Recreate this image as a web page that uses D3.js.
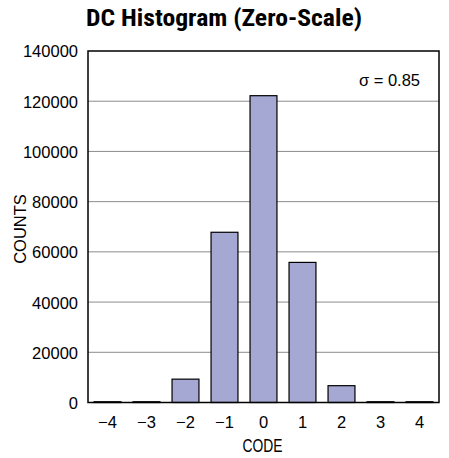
<!DOCTYPE html>
<html><head><meta charset="utf-8">
<script src="https://cdn.jsdelivr.net/npm/d3@7"></script>
<style>
body{margin:0;background:#fff;}
text{font-family:"Liberation Sans",Arial,sans-serif;}
</style></head>
<body>
<svg id="c" width="449" height="458"></svg>
<script>
const codes = ["−4","−3","−2","−1","0","1","2","3","4"];
const counts = [300, 300, 9300, 67800, 122200, 55800, 6700, 300, 300];
const yTicks = [0,20000,40000,60000,80000,100000,120000,140000];
const title = "DC Histogram (Zero-Scale)";
const sigmaLabel = "σ = 0.85";

const svg = d3.select("#c");
const L=88, R=439, T=51, B=402.5;
const x = d3.scaleBand().domain(codes).range([L,R]).paddingInner(0.31).paddingOuter(0.155);
const y = d3.scaleLinear().domain([0,140000]).range([B,T]);

// gridlines
svg.append("g").selectAll("line").data(yTicks.filter(d=>d>0 && d<140000)).join("line")
  .attr("x1",L).attr("x2",R).attr("y1",d=>y(d)).attr("y2",d=>y(d))
  .attr("stroke","#8c8c8c").attr("stroke-width",1);

// bars
svg.append("g").selectAll("rect").data(codes.map((c,i)=>({c,v:counts[i]}))).join("rect")
  .attr("x",d=>x(d.c)).attr("width",x.bandwidth())
  .attr("y",d=>y(d.v)).attr("height",d=>B-y(d.v))
  .attr("fill","#a6a8d4").attr("stroke","#000").attr("stroke-width",1.2);

// frame
svg.append("rect").attr("x",L).attr("y",T).attr("width",R-L).attr("height",B-T)
  .attr("fill","none").attr("stroke","#000").attr("stroke-width",1.5);

const FS = 16.5;
// y axis labels
const ya = svg.append("g").attr("transform",`translate(${L},0)`)
  .call(d3.axisLeft(y).tickValues(yTicks).tickSize(0).tickPadding(10).tickFormat(d3.format("d")));
ya.select(".domain").remove();
ya.selectAll("text").attr("font-size",FS).attr("fill","#000").attr("dy","0.36em")
  .style("font-family",'"Liberation Sans",Arial,sans-serif');

// x axis labels
const xa = svg.append("g").attr("transform",`translate(0,${B})`)
  .call(d3.axisBottom(x).tickSize(0).tickPadding(0));
xa.select(".domain").remove();
xa.selectAll("text").attr("font-size",FS).attr("fill","#000").attr("dy",null).attr("y",25.5)
  .style("font-family",'"Liberation Sans",Arial,sans-serif');

svg.append("text").attr("x",(L+R)/2 - 1).attr("y",452).attr("text-anchor","middle")
  .attr("font-size",18).attr("textLength",40).attr("lengthAdjust","spacingAndGlyphs").text("CODE");
svg.append("text").attr("transform",`translate(25.5,229) rotate(-90)`)
  .attr("text-anchor","middle").attr("font-size",FS).text("COUNTS");
svg.append("text").attr("x",224).attr("y",26).attr("text-anchor","middle")
  .attr("font-size",23.5).attr("font-weight","bold")
  .style("font-family",'"Liberation Sans Narrow","Arial Narrow","Roboto Condensed",sans-serif')
  .attr("textLength",276).attr("lengthAdjust","spacingAndGlyphs").text(title);
svg.append("text").attr("x",420).attr("y",86).attr("text-anchor","end")
  .attr("font-size",FS).text(sigmaLabel);
</script>
</body></html>
